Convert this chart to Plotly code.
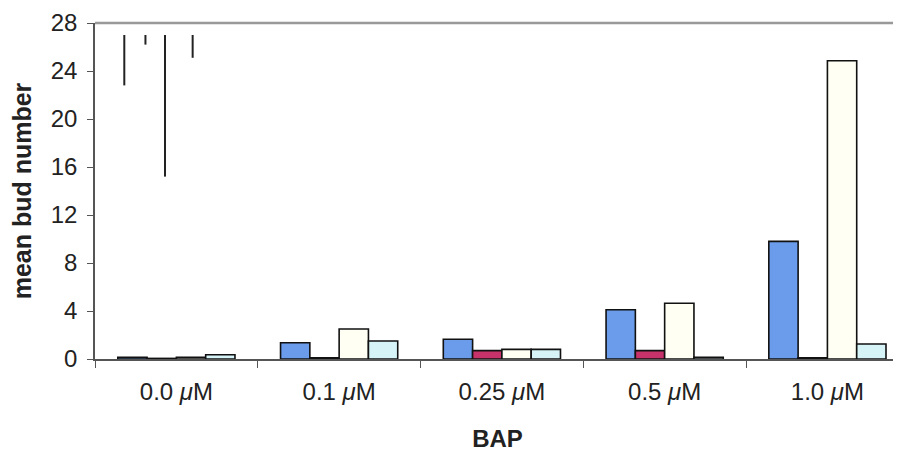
import plotly.graph_objects as go

categories = ["0.0 <i>μ</i>M", "0.1 <i>μ</i>M", "0.25 <i>μ</i>M", "0.5 <i>μ</i>M", "1.0 <i>μ</i>M"]
series_names = ["A", "B", "C", "D"]
values_blue = [0.15, 1.35, 1.65, 4.1, 9.8]
values_red = [0.05, 0.1, 0.7, 0.7, 0.1]
values_ivory = [0.15, 2.5, 0.8, 4.65, 24.85]
values_cyan = [0.35, 1.5, 0.8, 0.15, 1.25]
y_ticks = [0, 4, 8, 12, 16, 20, 24, 28]

# stray vertical marks near the top of the first group (x in category units, y in data units)
mark_x = [-0.32, -0.19, -0.07, 0.10]
mark_top = [27.0, 27.0, 27.0, 27.0]
mark_bottom = [22.8, 26.2, 15.2, 25.1]

colors = ["#6A9CEB", "#C8326A", "#FFFFF4", "#D6F4F8"]

fig = go.Figure()
for name, vals, col in zip(series_names, [values_blue, values_red, values_ivory, values_cyan], colors):
    fig.add_trace(go.Bar(
        x=categories, y=vals, name=name,
        marker=dict(color=col, line=dict(color="#111111", width=1.6)),
    ))

lx, ly = [], []
for x, t, b in zip(mark_x, mark_top, mark_bottom):
    lx += [x, x, None]
    ly += [t, b, None]
fig.add_trace(go.Scatter(x=lx, y=ly, mode="lines", xaxis="x2",
                         line=dict(color="#222222", width=2), showlegend=False, hoverinfo="skip"))

xr = [-0.5, 4.446]
fig.update_layout(
    width=893, height=448,
    margin=dict(l=87, r=1, t=12, b=97),
    paper_bgcolor="white", plot_bgcolor="white",
    barmode="group", bargap=0.28, bargroupgap=0,
    showlegend=False,
    font=dict(family="Liberation Sans, Arial, sans-serif", size=24, color="#222222"),
    xaxis=dict(
        type="category", range=xr, tickson="boundaries", ticks="outside", ticklen=7,
        tickcolor="#555555", showline=True, linecolor="#555555", linewidth=1.5,
        showgrid=False, zeroline=False, tickfont=dict(size=24), ticklabelstandoff=10,
        title=dict(text="<b>BAP</b>", font=dict(size=24), standoff=27),
    ),
    xaxis2=dict(overlaying="x", range=xr, visible=False),
    yaxis=dict(
        range=[0, 28], tickvals=y_ticks, ticks="outside", ticklen=6,
        tickcolor="#555555", showline=True, linecolor="#555555", linewidth=1.5,
        showgrid=False, zeroline=False, tickfont=dict(size=24), ticklabelstandoff=5,
        ticklabeloverflow="allow",
        title=dict(text="<b>mean bud number</b>", font=dict(size=25), standoff=13),
    ),
    shapes=[dict(type="line", xref="paper", yref="paper", x0=0, x1=1, y0=1, y1=1,
                 line=dict(color="#999999", width=2.5))],
)

fig.write_html("out.html")
